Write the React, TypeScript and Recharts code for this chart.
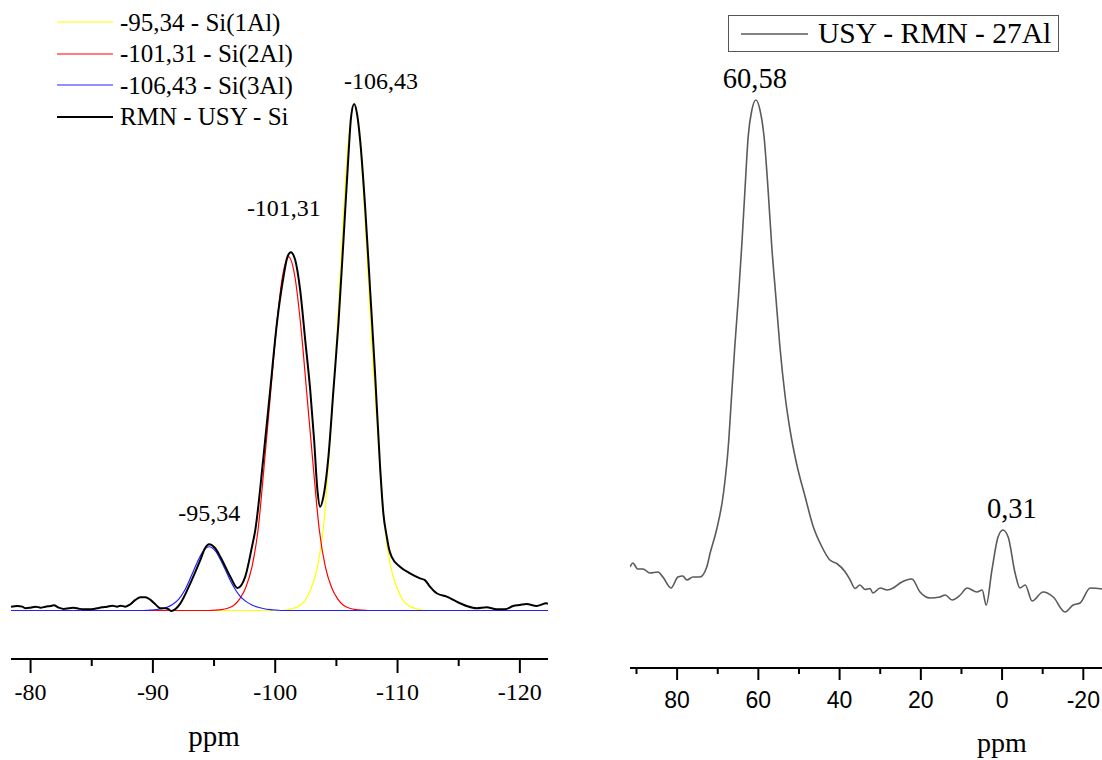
import React from 'react';
import { LineChart, Line, XAxis, YAxis, Legend, ReferenceDot } from 'recharts';

const SERIF = '"Liberation Serif", "Times New Roman", serif';
const SANS = '"Liberation Sans", Arial, sans-serif';

// ---------- 29Si spectrum (left) ----------
const siBlackPpm = [-78.4, -78.91, -79.32, -79.59, -80.0, -80.41, -80.82, -81.22, -81.63, -81.9, -82.31, -82.72, -83.13, -83.53, -83.94, -84.35, -84.76, -85.17, -85.44, -85.85, -86.26, -86.67, -87.08, -87.35, -87.76, -88.16, -88.57, -88.98, -89.39, -89.8, -90.2, -90.61, -91.02, -91.3, -91.49, -92.25, -93.06, -93.88, -94.24, -94.61, -95.06, -95.51, -96.33, -96.92, -97.55, -98.1, -98.37, -99.04, -99.59, -100.14, -100.68, -101.0, -101.28, -101.63, -102.04, -102.45, -102.86, -103.18, -103.45, -103.67, -103.94, -104.35, -104.76, -105.17, -105.58, -105.98, -106.2, -106.45, -106.7, -106.94, -107.35, -107.76, -108.16, -108.57, -108.84, -109.12, -109.3, -109.52, -110.2, -111.02, -111.84, -112.24, -112.65, -113.2, -114.02, -114.83, -115.65, -116.47, -117.28, -118.1, -118.78, -119.45, -120.0, -120.55, -121.36, -122.18, -122.3];
const siBlackVal = [0.76, 0.89, 0.76, 0.43, 0.56, 0.76, 0.56, 0.76, 0.89, 1.02, 0.56, 0.3, 0.43, 0.56, 0.36, 0.23, 0.23, 0.3, 0.43, 0.63, 0.76, 0.96, 0.76, 0.96, 0.76, 1.23, 2.09, 2.62, 2.62, 2.09, 1.23, 0.43, 0.43, 0.23, -0.1, 1.42, 5.37, 9.98, 12.2, 13.1, 12.4, 10.64, 6.69, 4.45, 6.69, 12.6, 15.9, 30.4, 43.6, 56.8, 66.0, 69.9, 70.8, 69.3, 63.3, 53.5, 43.6, 33.7, 23.8, 20.5, 22.5, 30.4, 43.6, 56.8, 73.2, 89.7, 97.5, 100.1, 98.0, 93.0, 79.8, 63.3, 46.9, 28.5, 19.2, 14.6, 12.2, 10.6, 8.66, 7.35, 6.36, 6.0, 4.7, 3.4, 2.73, 1.74, 0.89, 0.43, 0.63, 0.24, 0.24, 0.9, 1.09, 1.28, 0.89, 1.42, 1.3];

const siYellowPpm = [-78.4, -100.45, -100.95, -101.45, -101.95, -102.45, -102.95, -103.45, -103.95, -104.45, -104.95, -105.45, -105.95, -106.45, -106.95, -107.45, -107.95, -108.45, -108.95, -109.45, -109.95, -110.45, -110.95, -111.45, -111.95, -112.45, -122.3];
const siYellowVal = [0, 0, 0.1, 0.4, 0.9, 2.0, 4.5, 8.5, 16.5, 32.5, 50.5, 72.5, 92, 100, 92, 72.5, 50.5, 32.5, 16.5, 8.5, 4.5, 2.0, 0.9, 0.4, 0.1, 0, 0];

const siRedPpm = [-78.4, -94.6, -95.1, -95.6, -96.1, -96.6, -97.1, -97.6, -98.1, -98.6, -99.1, -99.6, -100.1, -100.6, -101.1, -101.6, -102.1, -102.6, -103.1, -103.6, -104.1, -104.6, -105.1, -105.6, -106.1, -106.6, -107.1, -107.6, -122.3];
const siRedVal = [0, 0, 0.06, 0.18, 0.45, 1.0, 2.3, 4.6, 8.6, 16.0, 28.7, 42.4, 56.0, 66.1, 69.9, 66.1, 56.0, 42.4, 28.7, 16.0, 8.6, 4.6, 2.3, 1.0, 0.45, 0.18, 0.06, 0, 0];

const siBluePpm = [-78.4, -89.1, -89.6, -90.1, -90.6, -91.1, -91.6, -92.1, -92.6, -93.1, -93.6, -94.1, -94.6, -95.1, -95.6, -96.1, -96.6, -97.1, -97.6, -98.1, -98.6, -99.1, -99.6, -100.1, -100.6, -122.3];
const siBlueVal = [0, 0, 0.05, 0.12, 0.3, 0.6, 1.2, 2.2, 4.0, 6.6, 9.4, 11.7, 12.6, 11.8, 9.7, 7.1, 4.7, 2.9, 1.8, 1.1, 0.65, 0.35, 0.18, 0.08, 0, 0];

const siSeriesNames = ['-95,34 - Si(1Al)', '-101,31 - Si(2Al)', '-106,43 - Si(3Al)', 'RMN - USY - Si'];
const siTicks = [-80, -85, -90, -95, -100, -105, -110, -115, -120];
const siPeakText = ['-95,34', '-101,31', '-106,43'];
const siPeakPpm = [-94.61, -101.28, -106.45];
const siPeakVal = [13.1, 70.8, 100.1];

// ---------- 27Al spectrum (right) ----------
const alPpm = [91.6, 90.9, 89.7, 88.4, 86.7, 84.7, 83.5, 81.5, 79.8, 78.6, 77.6, 76.1, 74.4, 72.7, 71.9, 70.3, 68.6, 67.4, 66.6, 65.8, 64.9, 64.1, 63.3, 62.5, 61.6, 60.6, 59.6, 58.6, 57.6, 56.7, 55.7, 54.7, 53.4, 52.2, 50.6, 48.5, 46.5, 44.4, 42.4, 40.7, 38.7, 37.4, 36.2, 35.0, 33.7, 32.5, 31.8, 30.0, 28.3, 26.8, 25.1, 22.2, 20.2, 17.7, 15.3, 14.0, 12.3, 10.3, 8.6, 6.2, 4.9, 3.9, 2.5, 1.0, -0.2, -1.5, -3.2, -4.4, -5.7, -7.4, -10.1, -12.6, -15.5, -17.5, -19.2, -21.7, -24.6];
const alVal = [6.6, 7.4, 6.2, 6.2, 5.4, 5.6, 4.6, 2.4, 4.6, 4.8, 4.0, 4.6, 4.6, 6.6, 9.3, 14.0, 21.3, 30.7, 40.7, 50.7, 60.7, 70.7, 82, 92.7, 98, 100, 98, 92.7, 82, 70.7, 60.7, 50.7, 40.7, 34, 27.3, 20.7, 14.7, 10.7, 8, 7.3, 5.7, 4, 2.3, 3, 2.1, 2.3, 1.4, 2.4, 2.0, 2.4, 3.4, 4.2, 1.6, 0.4, 0.6, 1.0, 0, 1.0, 2.4, 1.6, 2.0, -1.0, 6.0, 12.6, 14.0, 12.6, 5.4, 2.4, 3.0, -0.2, 1.6, 0.6, -2.4, -1.0, -0.6, 2.4, 2.2];
const alSeriesName = 'USY - RMN - 27Al';
const alTicks = [90, 80, 70, 60, 50, 40, 30, 20, 10, 0, -10, -20];
const alPeakText = ['60,58', '0,31'];
const alPeakPpm = [60.6, -0.2];
const alPeakVal = [100, 14.0];

const toRows = (xs: number[], ys: number[]) => xs.map((x, i) => ({ ppm: x, v: ys[i] }));

const siBlack = toRows(siBlackPpm, siBlackVal);
const siYellow = toRows(siYellowPpm, siYellowVal);
const siRed = toRows(siRedPpm, siRedVal);
const siBlue = toRows(siBluePpm, siBlueVal);
const al = toRows(alPpm, alVal);

const makeTick = (majorStep: number, majorLen: number, minorLen: number, labelDy: number, font: string, size: number) =>
  (props: any) => {
    const { x, y, payload } = props;
    const v = payload.value;
    const major = Math.abs(v % majorStep) < 1e-9;
    return (
      <g>
        <line x1={x} x2={x} y1={y} y2={y + (major ? majorLen : minorLen)} stroke="#000" strokeWidth={2} />
        {major && (
          <text x={x} y={y + labelDy} textAnchor="middle" fontFamily={font} fontSize={size} fill="#000">
            {String(v)}
          </text>
        )}
      </g>
    );
  };

const peakLabel = (text: string, dx: number, dy: number, size: number) => (props: any) => {
  const vb = props.viewBox || {};
  const cx = (vb.x ?? 0) + (vb.width ?? 0) / 2;
  const cy = (vb.y ?? 0) + (vb.height ?? 0) / 2;
  return (
    <text x={cx + dx} y={cy + dy} textAnchor="middle" fontFamily={SERIF} fontSize={size} fill="#000">
      {text}
    </text>
  );
};

const siLabelOffsets = [[0, -23], [-7, -36], [27, -14.5]];
const alLabelOffsets = [[-1, -12], [9, -12]];

const SiLegend = (props: any) => {
  const items = [...(props.payload || [])].sort(
    (a: any, b: any) => siSeriesNames.indexOf(a.value) - siSeriesNames.indexOf(b.value)
  );
  return (
    <div style={{ fontFamily: SERIF, fontSize: 25, color: '#000' }}>
      {items.map((it: any, i: number) => (
        <div key={i} style={{ display: 'flex', alignItems: 'center', height: 31.5, whiteSpace: 'nowrap' }}>
          <svg width={63} height={4} style={{ display: 'block' }}>
            <line x1={0} x2={56} y1={2} y2={2} stroke={it.color} strokeWidth={it.value === siSeriesNames[3] ? 2 : 1.2} />
          </svg>
          <span style={{ lineHeight: 1 }}>{it.value}</span>
        </div>
      ))}
    </div>
  );
};

const AlLegend = (props: any) => {
  const items = props.payload || [];
  return (
    <div>
      {items.map((it: any, i: number) => (
        <div key={i} style={{
          boxSizing: 'border-box', width: 331, height: 37, border: '1.3px solid #555',
          display: 'flex', alignItems: 'center', fontFamily: SERIF, fontSize: 29.5, color: '#000', whiteSpace: 'nowrap'
        }}>
          <svg width={89} height={4} style={{ display: 'block' }}>
            <line x1={12} x2={79} y1={2} y2={2} stroke={it.color} strokeWidth={1.3} />
          </svg>
          <span style={{ lineHeight: 1 }}>{it.value}</span>
        </div>
      ))}
    </div>
  );
};

export default function App() {
  return (
    <div style={{ position: 'absolute', left: 0, top: 0, width: 1102, height: 760, background: '#fff', overflow: 'hidden' }}>
      <div style={{ position: 'absolute', left: 0, top: 0 }}>
        <LineChart width={560} height={760} margin={{ top: 60, right: 12, bottom: 41, left: 11 }}>
          <XAxis
            type="number" dataKey="ppm" domain={[-122.3, -78.4]} reversed allowDataOverflow
            ticks={siTicks} interval={0} tickSize={0} tickMargin={0} tickLine={false}
            axisLine={{ stroke: '#000', strokeWidth: 2 }} height={60}
            tick={makeTick(10, 14, 7, 41, SERIF, 24)}
            label={(p: any) => (
              <text x={214} y={746} textAnchor="middle" fontFamily={SERIF} fontSize={29} fill="#000">ppm</text>
            )}
          />
          <YAxis type="number" hide domain={[-9.585, 108.79]} allowDataOverflow />
          <Legend
            layout="vertical" align="center" verticalAlign="middle"
            wrapperStyle={{ top: 6.5, left: 57, width: 320 }}
            content={(p: any) => <SiLegend {...p} />}
          />
          <Line data={siYellow} dataKey="v" name={siSeriesNames[0]} type="monotone" stroke="#ffff00" strokeWidth={1.2} dot={false} isAnimationActive={false} />
          <Line data={siRed} dataKey="v" name={siSeriesNames[1]} type="monotone" stroke="#ff0000" strokeWidth={1.2} dot={false} isAnimationActive={false} />
          <Line data={siBlue} dataKey="v" name={siSeriesNames[2]} type="monotone" stroke="#2020ff" strokeWidth={1.2} dot={false} isAnimationActive={false} />
          <Line data={siBlack} dataKey="v" name={siSeriesNames[3]} type="monotone" stroke="#000000" strokeWidth={2} dot={false} isAnimationActive={false} />
          {siPeakText.map((t, i) => (
            <ReferenceDot key={t} x={siPeakPpm[i]} y={siPeakVal[i]} r={1} fill="none" stroke="none"
              label={peakLabel(t, siLabelOffsets[i][0], siLabelOffsets[i][1], 24)} />
          ))}
        </LineChart>
      </div>
      <div style={{ position: 'absolute', left: 560, top: 0 }}>
        <LineChart width={542} height={760} margin={{ top: 60, right: 0, bottom: 32, left: 70 }}>
          <XAxis
            type="number" dataKey="ppm" domain={[-24.6, 91.6]} reversed allowDataOverflow
            ticks={alTicks} interval={0} tickSize={0} tickMargin={0} tickLine={false}
            axisLine={{ stroke: '#000', strokeWidth: 2 }} height={60}
            tick={makeTick(20, 12, 6, 40, SANS, 23)}
            label={(p: any) => (
              <text x={442} y={752} textAnchor="middle" fontFamily={SERIF} fontSize={28} fill="#000">ppm</text>
            )}
          />
          <YAxis type="number" hide domain={[-13.6, 108]} allowDataOverflow />
          <Legend
            layout="vertical" align="center" verticalAlign="middle"
            wrapperStyle={{ top: 15, left: 168, width: 331 }}
            content={(p: any) => <AlLegend {...p} />}
          />
          <Line data={al} dataKey="v" name={alSeriesName} type="monotone" stroke="#5a5a5a" strokeWidth={1.6} dot={false} isAnimationActive={false} />
          {alPeakText.map((t, i) => (
            <ReferenceDot key={t} x={alPeakPpm[i]} y={alPeakVal[i]} r={1} fill="none" stroke="none"
              label={peakLabel(t, alLabelOffsets[i][0], alLabelOffsets[i][1], 28.5)} />
          ))}
        </LineChart>
      </div>
    </div>
  );
}
